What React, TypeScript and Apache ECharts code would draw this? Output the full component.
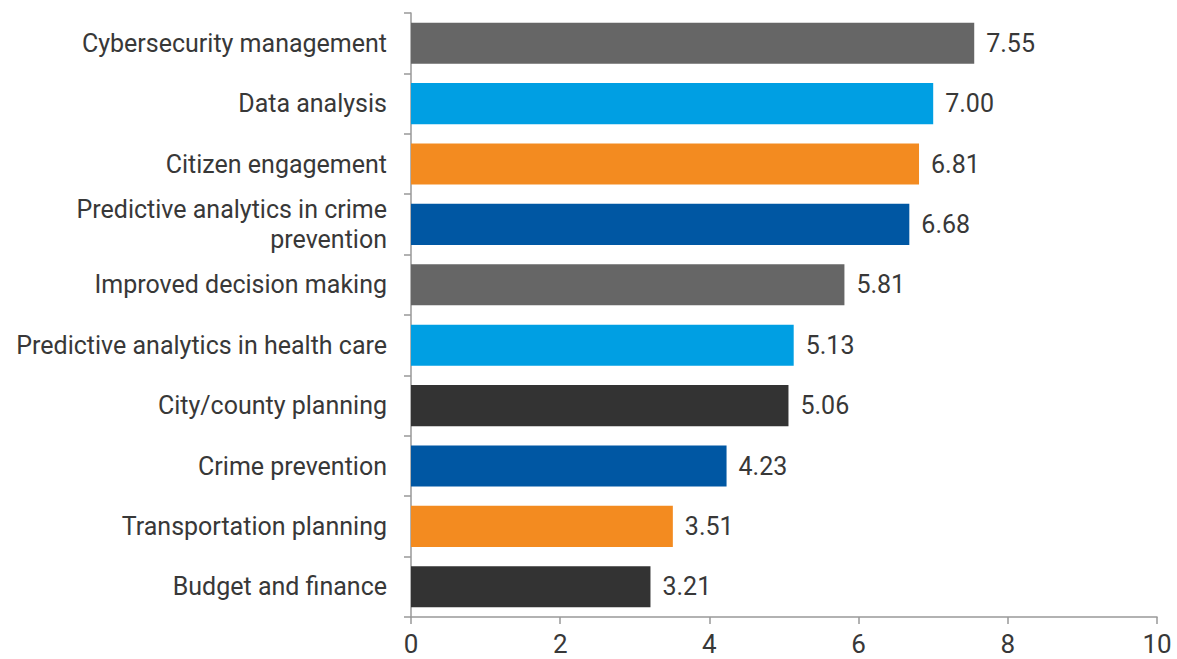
import React, { useEffect, useRef } from "react";
import * as echarts from "echarts";

const categories = [
  "Cybersecurity management",
  "Data analysis",
  "Citizen engagement",
  "Predictive analytics in crime\nprevention",
  "Improved decision making",
  "Predictive analytics in health care",
  "City/county planning",
  "Crime prevention",
  "Transportation planning",
  "Budget and finance",
];
const values = [7.55, 7.0, 6.81, 6.68, 5.81, 5.13, 5.06, 4.23, 3.51, 3.21];
const barColors = [
  "#666666",
  "#009FE3",
  "#F38B20",
  "#0057A3",
  "#666666",
  "#009FE3",
  "#333333",
  "#0057A3",
  "#F38B20",
  "#333333",
];
const xTicks = [0, 2, 4, 6, 8, 10];

export default function App() {
  const ref = useRef<HTMLDivElement>(null);
  useEffect(() => {
    const chart = echarts.init(ref.current!, null, { renderer: "svg" });
    chart.setOption({
      animation: false,
      textStyle: { fontFamily: "Roboto" },
      grid: { left: 411, right: 20, top: 13, bottom: 42, containLabel: false },
      xAxis: {
        type: "value",
        min: xTicks[0],
        max: xTicks[xTicks.length - 1],
        interval: 2,
        splitLine: { show: false },
        axisLine: { show: true, lineStyle: { color: "#999999", width: 1.5 } },
        axisTick: { show: true, length: 7, lineStyle: { color: "#999999", width: 1.5 } },
        axisLabel: { color: "#383838", fontSize: 26, margin: 14 },
      },
      yAxis: {
        type: "category",
        data: categories,
        inverse: true,
        axisLine: { show: true, lineStyle: { color: "#999999", width: 1.5 } },
        axisTick: { show: true, length: 7, alignWithLabel: false, lineStyle: { color: "#999999", width: 1.5 } },
        axisLabel: { color: "#383838", fontSize: 25, margin: 24, lineHeight: 30, align: "right" },
      },
      series: [
        {
          type: "bar",
          data: values.map((v, i) => ({ value: v, itemStyle: { color: barColors[i] } })),
          barCategoryGap: "32%",
          label: {
            show: true,
            position: "right",
            distance: 12,
            color: "#383838",
            fontSize: 25,
            formatter: (p: any) => Number(p.value).toFixed(2),
          },
        },
      ],
    });
    return () => chart.dispose();
  }, []);
  return (
    <div
      ref={ref}
      style={{ position: "absolute", left: 0, top: 0, width: 1177, height: 659 }}
    />
  );
}
